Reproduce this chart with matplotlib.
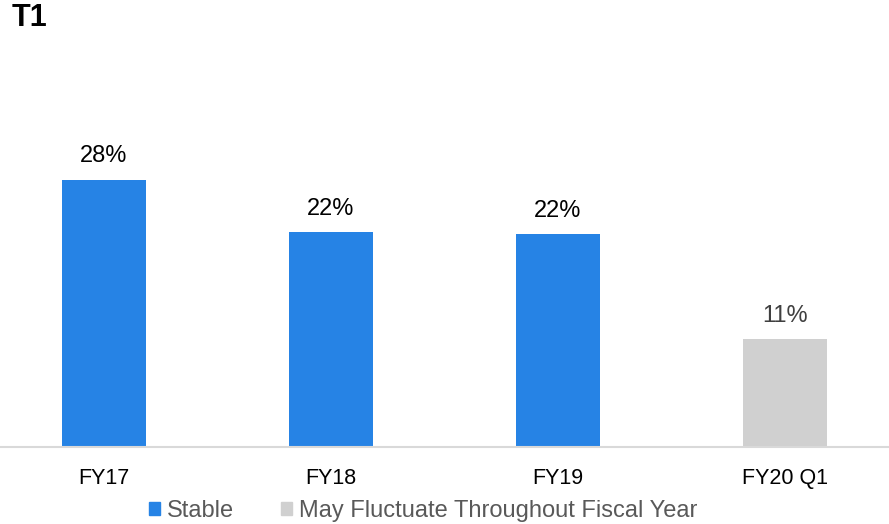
import matplotlib.pyplot as plt
from matplotlib.patches import Patch

plt.rcParams['font.family'] = ['Liberation Sans', 'DejaVu Sans']

categories = ['FY17', 'FY18', 'FY19', 'FY20 Q1']
values = [28.0, 22.5, 22.3, 11.3]
labels = ['28%', '22%', '22%', '11%']
stable = [True, True, True, False]

blue = '#2683E5'
grey = '#D0D0D0'

fig = plt.figure(figsize=(8.89, 5.24), dpi=100)
ax = fig.add_axes([0, 77 / 524, 1, 387 / 524])

colors = [blue if s else grey for s in stable]
x = list(range(len(categories)))
bars = ax.bar(x, values, width=0.366, color=colors)

for b, lab, s in zip(bars, labels, stable):
    ax.annotate(lab, (b.get_x() + b.get_width() / 2, b.get_height()),
                xytext=(0, 9), textcoords='offset points', ha='center', va='bottom',
                fontsize=17, color='black' if s else '#404040')

ax.set_xlim(-104 / 227, 3 + 104 / 227)
ax.set_ylim(0, 387 / 9.54)
ax.set_xticks(x)
ax.set_xticklabels(categories, fontsize=15.5)
ax.tick_params(axis='x', length=0, pad=15)
ax.set_yticks([])
for sp in ['top', 'right', 'left']:
    ax.spines[sp].set_visible(False)
ax.spines['bottom'].set_color('#D9D9D9')
ax.spines['bottom'].set_linewidth(1.5)

fig.text(12 / 889, 1 - 18 / 524, 'T1', fontsize=22, fontweight='bold', va='center', ha='left')

handles = [Patch(color=blue, label='Stable'),
           Patch(color=grey, label='May Fluctuate Throughout Fiscal Year')]
fig.legend(handles=handles, loc='center', bbox_to_anchor=(423 / 889, 1 - 511 / 524),
           ncol=2, frameon=False, fontsize=17, handlelength=0.46, handleheight=0.46,
           handletextpad=0.3, columnspacing=2.0, labelcolor='#595959')

fig.savefig('out.png', dpi=100)
